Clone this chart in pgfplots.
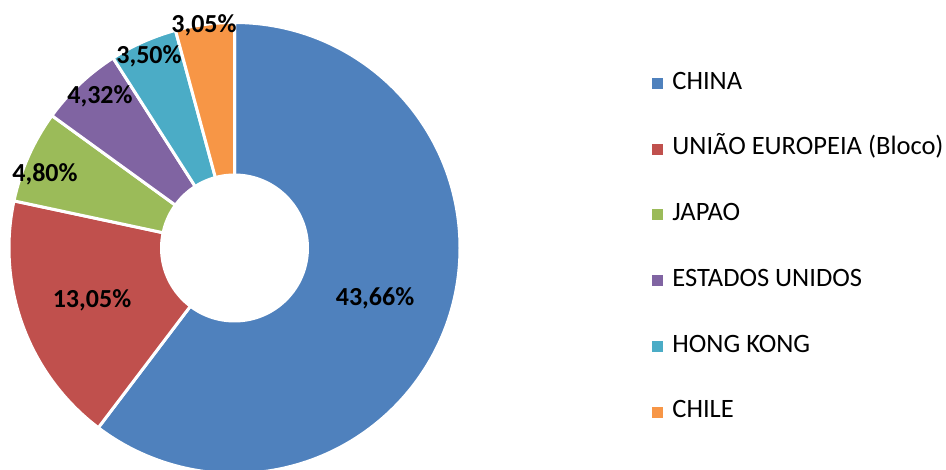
\documentclass[border=0pt]{standalone}
\usepackage{pgfplots}
\pgfplotsset{compat=1.18}
\usepackage{pgfplotstable}
\usepackage{fontspec}
\setmainfont{Carlito}

\definecolor{s0}{HTML}{4F81BD}
\definecolor{s1}{HTML}{C0504D}
\definecolor{s2}{HTML}{9BBB59}
\definecolor{s3}{HTML}{8064A2}
\definecolor{s4}{HTML}{4BACC6}
\definecolor{s5}{HTML}{F79646}

\pgfplotstableread[col sep=comma]{
name,value,lx,ly
CHINA,43.66,375,298
UNIAO,13.05,92,300
JAPAO,4.80,45,174
EUA,4.32,100,96
HK,3.50,149,56
CHILE,3.05,204,25
}\data

\newcommand\labelfont{\fontsize{26}{30}\selectfont\bfseries}

\begin{document}
\begin{tikzpicture}
% total
\gdef\total{0}
\foreach \i in {0,...,5}{%
  \pgfplotstablegetelem{\i}{value}\of\data
  \pgfmathsetmacro\t{\total+\pgfplotsretval}%
  \global\let\total\t
}
\gdef\cum{0}
\foreach \i in {0,...,5}{%
  \pgfplotstablegetelem{\i}{value}\of\data
  \let\v\pgfplotsretval
  \pgfmathsetmacro\a{90-(\cum/\total)*360}%
  \pgfmathsetmacro\b{90-((\cum+\v)/\total)*360}%
  \expandafter\xdef\csname sa\i\endcsname{\a}%
  \expandafter\xdef\csname sb\i\endcsname{\b}%
  \expandafter\xdef\csname v\i\endcsname{\v}%
  \pgfmathsetmacro\c{\cum+\v}%
  \global\let\cum\c
  \pgfplotstablegetelem{\i}{lx}\of\data
  \expandafter\xdef\csname lx\i\endcsname{\pgfplotsretval}%
  \pgfplotstablegetelem{\i}{ly}\of\data
  \pgfmathsetmacro\yy{469-\pgfplotsretval}%
  \expandafter\xdef\csname ly\i\endcsname{\yy}%
}
\begin{axis}[
  name=ax,
  scale only axis, width=946pt, height=469pt,
  xmin=0, xmax=946, ymin=0, ymax=469,
  hide axis, clip=false,
  legend cell align=left,
  legend image code/.code={\fill[#1] (0pt,-5pt) rectangle (10pt,5pt);},
  legend style={draw=none, fill=none, inner sep=0pt, outer sep=0pt,
    at={(axis cs:652,398)}, anchor=north west,
    font=\fontsize{26.5}{30}\selectfont,
    row sep=41.8pt, column sep=10pt,
    nodes={inner sep=0pt, text height=18pt, text depth=6pt}},
]
\pgfplotsinvokeforeach{0,...,5}{
  \filldraw[fill=s#1, draw=white, line width=3pt]
    (axis cs:234.5,221) -- ([shift={(\csname sa#1\endcsname:225.5pt)}]axis cs:234.5,221)
    arc[start angle=\csname sa#1\endcsname, end angle=\csname sb#1\endcsname, radius=225.5pt] -- cycle;
}
\fill[white] (axis cs:234.5,221) circle[radius=74.5pt];
\pgfplotsinvokeforeach{0,...,5}{
  \node[font=\labelfont, inner sep=0pt] at (axis cs:\csname lx#1\endcsname,\csname ly#1\endcsname)
    {\pgfmathprintnumber[assume math mode=true,use comma,fixed,fixed zerofill,precision=2]{\csname v#1\endcsname}\%};
}
\addlegendimage{s0}\addlegendentry{CHINA}
\addlegendimage{s1}\addlegendentry{UNIÃO EUROPEIA (Bloco)}
\addlegendimage{s2}\addlegendentry{JAPAO}
\addlegendimage{s3}\addlegendentry{ESTADOS UNIDOS}
\addlegendimage{s4}\addlegendentry{HONG KONG}
\addlegendimage{s5}\addlegendentry{CHILE}
\end{axis}
\pgfresetboundingbox
\path (ax.south west) rectangle (ax.north east);
\end{tikzpicture}
\end{document}
